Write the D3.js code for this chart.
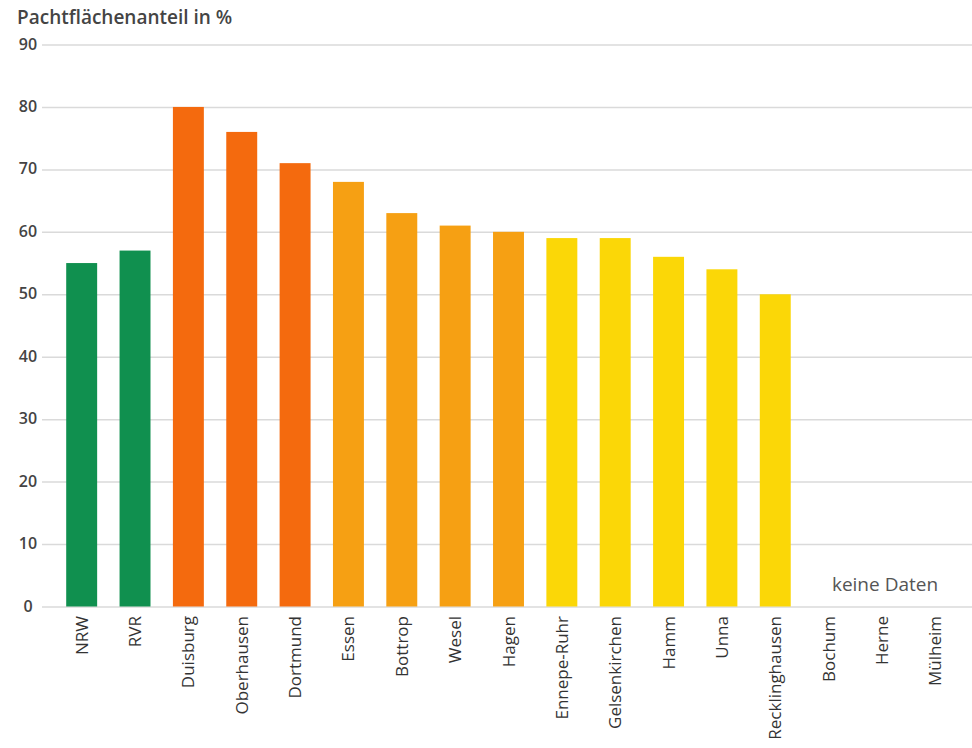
<!DOCTYPE html>
<html><head><meta charset="utf-8">
<script src="https://cdn.jsdelivr.net/npm/d3@7/dist/d3.min.js"></script>
<style>body{margin:0;background:#fff;} text{font-family:"Open Sans",Lato,sans-serif;}</style>
</head><body>
<svg id="c" width="972" height="748"></svg>
<script>
const categories = ["NRW","RVR","Duisburg","Oberhausen","Dortmund","Essen","Bottrop","Wesel","Hagen","Ennepe-Ruhr","Gelsenkirchen","Hamm","Unna","Recklinghausen","Bochum","Herne","Mülheim"];
const values = [55,57,80,76,71,68,63,61,60,59,59,56,54,50,null,null,null];
const groups = ["green","green","red","red","red","orange","orange","orange","orange","yellow","yellow","yellow","yellow","yellow",null,null,null];
const yTicks = [0,10,20,30,40,50,60,70,80,90];
const title = "Pachtflächenanteil in %";
const noDataLabel = "keine Daten";

const colors = {green:"#10904f", red:"#f46a0e", orange:"#f6a013", yellow:"#fbd707"};
const svg = d3.select("#c");
const y = d3.scaleLinear().domain([0,90]).range([606.5,44.5]);
const x = d3.scaleBand().domain(categories).range([55,962]).paddingInner(0.42).paddingOuter(0.21);

const ga = svg.append("g").attr("transform","translate(972,0)").call(d3.axisRight(y).tickValues(yTicks).tickSize(-930).tickFormat(""));
ga.select(".domain").remove();
ga.selectAll("line").attr("stroke","#dadada").attr("stroke-width",1.5);
svg.selectAll(".ylab").data(yTicks).join("text")
  .attr("x",28).attr("y",d=>y(d)+5).attr("text-anchor","middle")
  .attr("font-size",16).attr("font-weight",600).attr("fill","#444").text(d=>d);

svg.append("text").attr("x",17).attr("y",24).attr("font-size",19).attr("font-weight",600).attr("fill","#444").text(title);

svg.selectAll(".bar").data(categories.map((c,i)=>({c,v:values[i],g:groups[i]})).filter(d=>d.v!=null))
  .join("rect").attr("x",d=>x(d.c)).attr("width",x.bandwidth())
  .attr("y",d=>y(d.v)).attr("height",d=>y(0)-y(d.v)).attr("fill",d=>colors[d.g]);

svg.selectAll(".xlab").data(categories).join("text")
  .attr("transform",d=>`translate(${x(d)+x.bandwidth()/2+6},616) rotate(-90)`)
  .attr("text-anchor","end").attr("font-size",17).attr("fill","#333").text(d=>d);

svg.append("text").attr("x",885).attr("y",591).attr("text-anchor","middle")
  .attr("font-size",19).attr("fill","#555").text(noDataLabel);
</script>
</body></html>
